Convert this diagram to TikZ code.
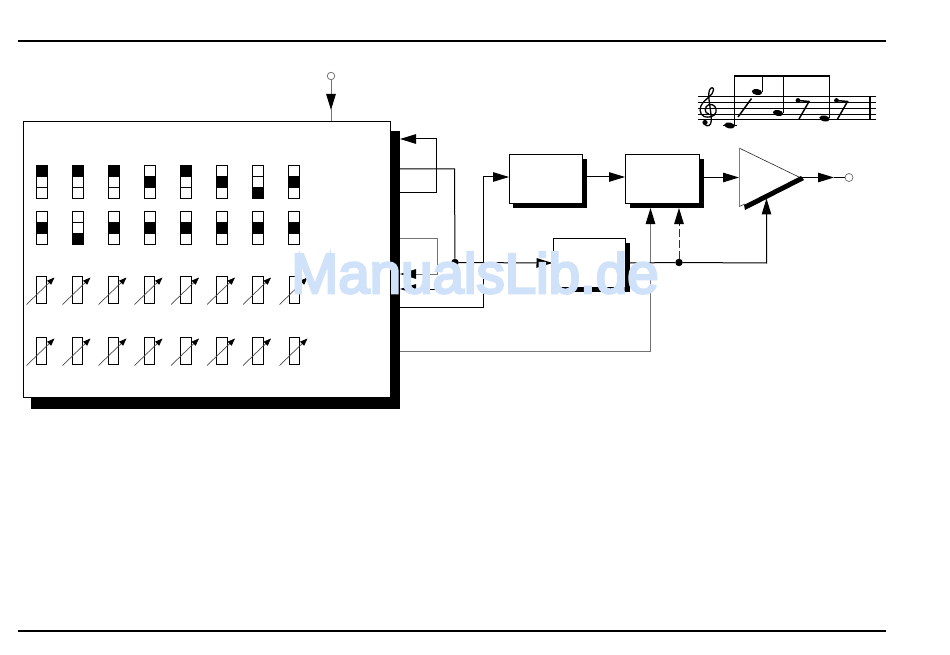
\documentclass[tikz,border=0pt]{standalone}
\usepackage{fontspec}
\setmainfont{Liberation Sans}
\newfontfamily\wmfont[FakeBold=4.5]{Liberation Sans}
\usetikzlibrary{arrows.meta}
\definecolor{wm}{HTML}{CFE2FA}
\tikzset{
  conn/.style={line width=1pt,black},
  gconn/.style={line width=1pt,black!55},
  bighead/.style={-{Triangle[length=16pt,width=9.5pt,color=black]}},
  block/.style={draw=black,line width=1pt,fill=white,inner sep=0pt,anchor=north west},
  potbox/.style={draw=black,line width=0.85pt,fill=white},
  staffline/.style={line width=1pt},
  dotnode/.style={circle,fill=black,inner sep=0pt,minimum size=7.5pt},
  opencirc/.style={circle,draw=black!60,fill=white,line width=0.7pt,inner sep=0pt,minimum size=8pt},
  watermark/.style={text=wm,font=\wmfont\fontsize{56.5}{56.5}\selectfont,inner sep=0pt},
}
\newcommand{\swtch}[3]{%
  \draw[line width=0.85pt,fill=white] (#1-5.5,#2) rectangle (#1+5.5,#2+33);
  \draw[line width=0.85pt] (#1-5.5,#2+11) -- (#1+5.5,#2+11) (#1-5.5,#2+22) -- (#1+5.5,#2+22);
  \fill[black] (#1-6,#2+#3*11) rectangle (#1+6,#2+#3*11+11);
}
\newcommand{\potm}[2]{%
  \draw[potbox] (#1-5.2,#2) rectangle (#1+5.2,#2+27);
  \draw[line width=0.7pt,black!70,-{Triangle[length=7.5pt,width=5.5pt,color=black]}] (#1-15,#2+28.5) -- (#1+13,#2+1.5);
}
\begin{document}
\begin{tikzpicture}[x=1pt,y=-1pt]
\useasboundingbox (0,0) rectangle (950,655);
\fill[white] (0,0) rectangle (950,655);
\coordinate (tl) at (18,41); \coordinate (tr) at (886,41);
\coordinate (bl) at (18,630.5); \coordinate (br) at (886,630.5);
\draw[line width=2pt] (tl) -- (tr);
\draw[line width=2pt] (bl) -- (br);
% main panel
\fill[black] (31,131) rectangle (400,409);
\node[block,minimum width=367pt,minimum height=276pt] (main) at (23,121) {};
\coordinate (inp) at (331,121);
\node[opencirc,minimum size=7.5pt] (topc) at (331,76) {};
\draw[gconn,bighead] (topc) -- (331,110);
\draw[gconn] (331,108) -- (inp);
% switches
\foreach \c/\k in {42/0,78/0,114/0,150/1,186/0,222/1,258/2,294/1} {\swtch{\c}{165}{\k}}
\foreach \c/\k in {42/1,78/2,114/1,150/1,186/1,222/1,258/1,294/1} {\swtch{\c}{211}{\k}}
% pots
\foreach \c in {41.5,77.5,113.5,149.5,186,222,258,294.5} {\potm{\c}{276}\potm{\c}{337}}
% blocks
\fill[black] (513,159) rectangle (587,208);
\node[block,minimum width=73pt,minimum height=49.5pt] (b1) at (509,154) {};
\fill[black] (630,159) rectangle (704,208);
\node[block,minimum width=74pt,minimum height=49pt] (b3) at (625,154) {};
\fill[black] (556,243) rectangle (630,292);
\node[block,minimum width=72.5pt,minimum height=49pt] (b2) at (552.5,238) {};
% triangle
\coordinate (ta) at (739,148); \coordinate (tb) at (739,206.5); \coordinate (tc) at (801,178);
\fill[white] (ta) -- (tc) -- (tb) -- cycle;
\draw[line width=0.6pt,black!85] (ta) -- (tc);
\draw[line width=0.8pt,black!50] (ta) -- (tb);
\draw[line width=0.6pt,black!80] (tb) -- (745,204);
\fill[black] (744,205) -- (801,176) -- (804,180) -- (745,210) -- cycle;
% connector coordinates
\coordinate (p1) at (400,139); \coordinate (p2) at (400,193);
\coordinate (p3) at (400,169); \coordinate (p4) at (400,238);
\coordinate (p5) at (400,274); \coordinate (p6) at (400,289);
\coordinate (p7) at (400,307); \coordinate (p8) at (400,351);
\node[dotnode] (d1) at (455,262.5) {};
\node[dotnode] (d2) at (679,262.5) {};
\draw[conn,bighead] (p2) -- (436.5,193) -- (436.5,139) -- (p1);
\draw[conn] (p3) -- (454.5,169) -- (d1);
\draw[gconn,bighead] (p4) -- (437,238) -- (437,274) -- (p5);
\draw[conn,bighead] (d1) -- (455,289) -- (p6);
\draw[conn,bighead] (p7) -- (483.5,307) -- (483.5,177) -- (b1.west|-0,177);
\draw[conn,bighead] (d1) -- (b2.west|-0,263);
\draw[conn,bighead] (587,177) -- (b3.west|-0,177);
\draw[gconn,bighead] (p8) -- (650.5,351) -- (650.5,208);
\draw[conn] (630,263) -- (d2);
\draw[conn,bighead] (d2) -- (766.5,263) -- (766.5,198.5);
\draw[line width=0.9pt,dash pattern=on 8pt off 3pt,black!80] (d2) -- (679,225);
\draw[conn,bighead] (679,225) -- (679,208);
\draw[conn,bighead] (704,177.5) -- (739,177.5);
\node[opencirc] (outc) at (849,177.5) {};
\draw[conn,bighead] (801,177.5) -- (834,177.5);
\draw[conn] (834,177.5) -- (outc);
% music
\foreach \y in {96.7,102.6,108.4,114.2,120} {\draw[staffline] (698,\y) -- (876,\y);}
\draw[line width=2.4pt] (734,76) -- (830,76);
\draw[line width=1pt] (723,125.5) -- (737,125.5);
\foreach \x/\y/\t in {729.5/125.5/734.5,757/92/762.5,778/113/783.5,824.5/118.5/829.5} {
  \fill[black,rotate around={-10:(\x,\y)}] (\x,\y) ellipse (5.2pt and 3pt);
  \draw[line width=1pt] (\t,76) -- (\t,\y);
}
\draw[line width=1.5pt] (738,117) -- (751.5,98.5);
\foreach \x/\y in {798/100.5,836.5/100.5} {
  \fill (\x,\y) circle (2.4pt);
  \draw[line width=1.5pt] (\x,\y) -- (\x+11,\y+1) -- (\x+1,\y+18.5);
}
\draw[line width=2.6pt] (870,96) -- (870,120.5);
% treble clef
\draw[line width=1.3pt] (709,114) .. controls (704,114) and (704,106) .. (709,104.5)
  .. controls (714,103.5) and (717,108) .. (716,112)
  .. controls (715,117) and (708,118) .. (704,116.5)
  .. controls (699,114) and (699,107) .. (703,102.5)
  .. controls (707,98) and (713,95) .. (713.5,90)
  .. controls (713.5,87) and (711,87) .. (709.5,90)
  .. controls (708,94) and (709,100) .. (710,107)
  .. controls (711,114) and (712,121) .. (710.5,124)
  .. controls (709,127) and (704,126) .. (704.5,122.5);
\fill (705,122.5) circle (2.6pt);
% watermark
\node[watermark,anchor=base west] (wmark) at (291,293) {ManualsLib.de};
\end{tikzpicture}
\end{document}
